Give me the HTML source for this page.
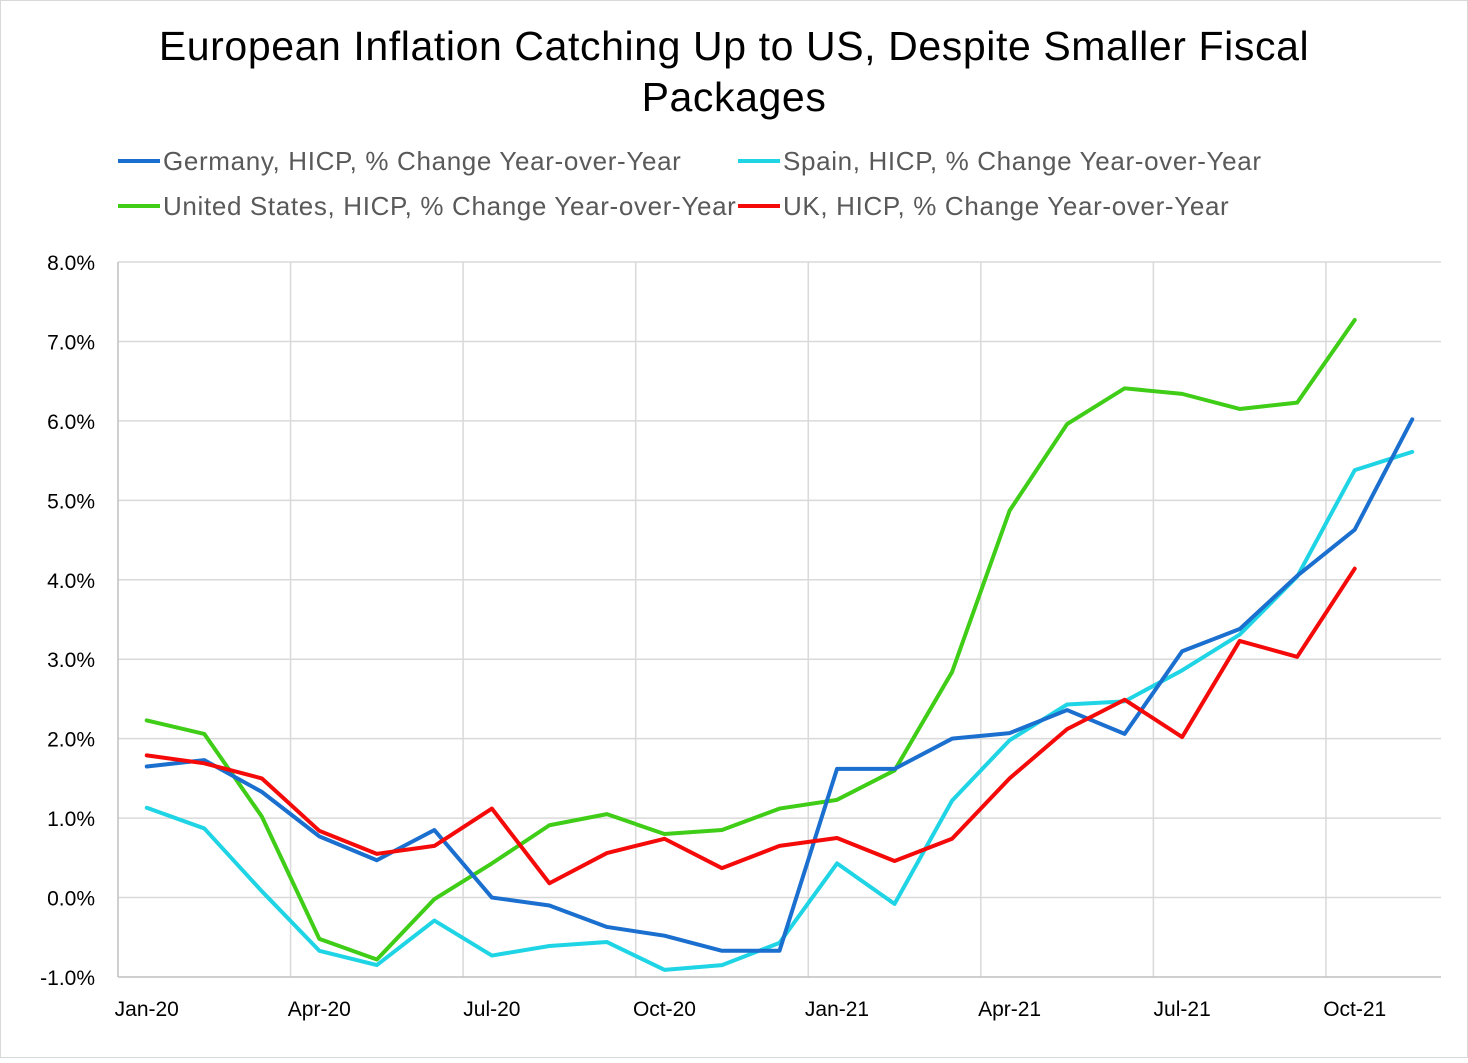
<!DOCTYPE html>
<html><head><meta charset="utf-8">
<style>
html,body{margin:0;padding:0;background:#fff;}
body{width:1468px;height:1058px;overflow:hidden;font-family:"Liberation Sans",sans-serif;}
</style></head>
<body>
<svg id="chart" width="1468" height="1058" xmlns="http://www.w3.org/2000/svg">
<rect x="0.5" y="0.5" width="1467" height="1057" fill="#fff" stroke="#d9d9d9"/>
<text x="734" y="60" text-anchor="middle" font-size="41" letter-spacing="0.6" fill="#000">European Inflation Catching Up to US, Despite Smaller Fiscal</text>
<text x="734" y="111" text-anchor="middle" font-size="41" letter-spacing="0.6" fill="#000">Packages</text>
<g id="legend"></g>
<g id="grid"></g>
<g id="axes"></g>
<g id="series"></g>
</svg>
<script>
const categories = ["Jan-20","Feb-20","Mar-20","Apr-20","May-20","Jun-20","Jul-20","Aug-20","Sep-20","Oct-20","Nov-20","Dec-20","Jan-21","Feb-21","Mar-21","Apr-21","May-21","Jun-21","Jul-21","Aug-21","Sep-21","Oct-21","Nov-21"];
const germany = [1.65,1.73,1.33,0.77,0.47,0.85,0.0,-0.1,-0.37,-0.48,-0.67,-0.67,1.62,1.62,2.0,2.07,2.36,2.06,3.1,3.38,4.05,4.63,6.02];
const spain = [1.13,0.87,0.08,-0.67,-0.85,-0.29,-0.73,-0.61,-0.56,-0.91,-0.85,-0.57,0.43,-0.08,1.22,1.98,2.43,2.47,2.86,3.31,4.04,5.38,5.61];
const us = [2.23,2.06,1.02,-0.52,-0.78,-0.02,0.43,0.91,1.05,0.8,0.85,1.12,1.23,1.6,2.84,4.87,5.96,6.41,6.34,6.15,6.23,7.27];
const uk = [1.79,1.69,1.5,0.84,0.55,0.65,1.12,0.18,0.56,0.74,0.37,0.65,0.75,0.46,0.74,1.5,2.12,2.49,2.02,3.23,3.03,4.14];
const yTicks = [-1,0,1,2,3,4,5,6,7,8];
const xLabelIdx = [0,3,6,9,12,15,18,21];

const NS="http://www.w3.org/2000/svg";
const L=118,R=1441,T=262,B=977,yMin=-1,yMax=8;
const step=(R-L)/categories.length;
const xs=i=>L+step*(i+0.5);
const ys=v=>B-(v-yMin)/(yMax-yMin)*(B-T);
function mk(tag,attrs,parent){const e=document.createElementNS(NS,tag);for(const k in attrs)e.setAttribute(k,attrs[k]);parent.appendChild(e);return e;}
const grid=document.getElementById('grid'),axes=document.getElementById('axes'),ser=document.getElementById('series'),leg=document.getElementById('legend');

yTicks.forEach(v=>{
  const y=ys(v);
  if(v!==yMin){const g=mk('line',{x1:L,x2:R,y1:y,y2:y,stroke:'#d9d9d9','stroke-width':1.5},grid);
  
  }
  const t=mk('text',{x:95,y:y+8,'text-anchor':'end','font-size':21,fill:'#000'},axes);
  t.textContent=v.toFixed(1)+'%';
  
  
});
for(let k=3;k<categories.length;k+=3){
  const x=L+step*k;
  const g=mk('line',{x1:x,x2:x,y1:T,y2:B,stroke:'#d9d9d9','stroke-width':1.5},grid);
  
  
}
const ax=mk('line',{x1:L,x2:R,y1:B,y2:B,stroke:'#bfbfbf','stroke-width':1.5},axes);


const ay=mk('line',{x1:L,x2:L,y1:T,y2:B,stroke:'#bfbfbf','stroke-width':1.5},axes);


xLabelIdx.forEach(i=>{
  const t=mk('text',{x:xs(i),y:1016,'text-anchor':'middle','font-size':21,fill:'#000'},axes);
  t.textContent=categories[i];
  
  
});

const seriesList=[
 {d:us,c:'#3fcd17',n:'us-line'},
 {d:spain,c:'#1fd4e4',n:'spain-line'},
 {d:germany,c:'#1a6fcf',n:'germany-line'},
 {d:uk,c:'#f50a0a',n:'uk-line'}
];
seriesList.forEach(s=>{
  const p=mk('polyline',{points:s.d.map((v,i)=>xs(i)+','+ys(v)).join(' '),fill:'none',stroke:s.c,'stroke-width':4,'stroke-linejoin':'round','stroke-linecap':'round'},ser);
  
  
});

const legendItems=[
 {t:'Germany, HICP, % Change Year-over-Year',c:'#1a6fcf',x:118,y:161},
 {t:'Spain, HICP, % Change Year-over-Year',c:'#1fd4e4',x:738,y:161},
 {t:'United States, HICP, % Change Year-over-Year',c:'#3fcd17',x:118,y:206},
 {t:'UK, HICP, % Change Year-over-Year',c:'#f50a0a',x:738,y:206}
];
legendItems.forEach(it=>{
  const l=mk('line',{x1:it.x,x2:it.x+42,y1:it.y,y2:it.y,stroke:it.c,'stroke-width':4},leg);
  
  
  const t=mk('text',{x:it.x+45,y:it.y+9,'font-size':26,'letter-spacing':0.65,fill:'#595959'},leg);
  t.textContent=it.t;
  
  
});
</script>
</body></html>
